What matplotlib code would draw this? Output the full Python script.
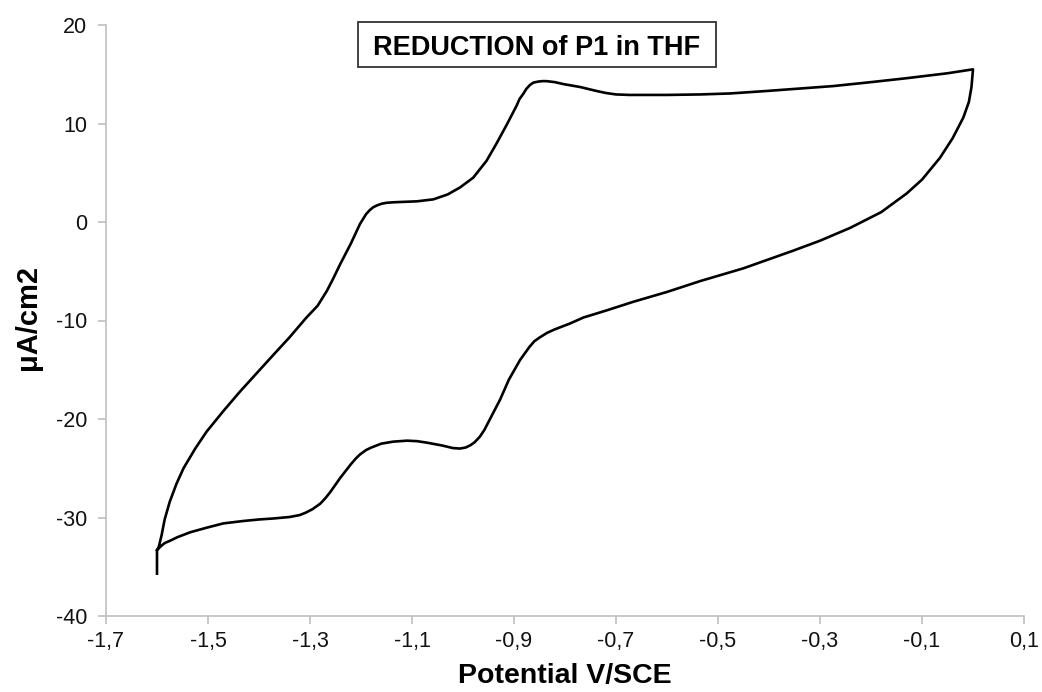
import matplotlib
matplotlib.use("Agg")
import matplotlib.pyplot as plt
from matplotlib.patches import Rectangle

plt.rcParams['font.family'] = ['Liberation Sans', 'DejaVu Sans']
plt.rcParams['axes.unicode_minus'] = False

# scan start tail at -1.6 V
tail_v = [-1.600, -1.600]
tail_i = [-35.7, -33.3]

# lower branch, -1.6 V -> 0 V
lower_v = [-1.600, -1.592, -1.585, -1.572, -1.560, -1.535, -1.500, -1.470, -1.430, -1.400,
           -1.372, -1.340, -1.320, -1.308, -1.295, -1.280, -1.270, -1.260, -1.241, -1.220,
           -1.210, -1.202, -1.190, -1.180, -1.160, -1.137, -1.110, -1.090, -1.071, -1.040,
           -1.020, -1.006, -0.995, -0.985, -0.977, -0.967, -0.958, -0.950, -0.927, -0.910,
           -0.888, -0.870, -0.860, -0.849, -0.835, -0.820, -0.790, -0.764, -0.720, -0.666,
           -0.600, -0.535, -0.450, -0.352, -0.300, -0.241, -0.180, -0.130, -0.100, -0.065,
           -0.040, -0.019, -0.008, -0.003, 0.000]
lower_i = [-33.3, -32.9, -32.6, -32.3, -32.0, -31.5, -31.0, -30.6, -30.35, -30.2,
           -30.1, -29.95, -29.75, -29.5, -29.15, -28.6, -28.05, -27.4, -26.0, -24.6,
           -24.0, -23.6, -23.15, -22.9, -22.5, -22.3, -22.2, -22.25, -22.4, -22.7,
           -22.95, -23.0, -22.9, -22.65, -22.35, -21.8, -21.1, -20.3, -18.0, -16.0,
           -14.0, -12.7, -12.1, -11.7, -11.25, -10.9, -10.3, -9.7, -9.0, -8.1,
           -7.1, -6.0, -4.7, -2.9, -1.9, -0.6, 1.0, 2.9, 4.3, 6.5,
           8.5, 10.6, 12.2, 13.7, 15.5]

# upper branch, 0 V -> -1.6 V
upper_v = [0.000, -0.050, -0.130, -0.200, -0.274, -0.340, -0.405, -0.476, -0.535, -0.600,
           -0.673, -0.700, -0.720, -0.738, -0.770, -0.803, -0.820, -0.836, -0.845, -0.853,
           -0.862, -0.869, -0.876, -0.882, -0.889, -0.895, -0.914, -0.935, -0.954, -0.980,
           -1.006, -1.030, -1.058, -1.090, -1.137, -1.150, -1.160, -1.168, -1.176, -1.183,
           -1.190, -1.196, -1.202, -1.220, -1.241, -1.255, -1.267, -1.285, -1.307, -1.340,
           -1.372, -1.400, -1.437, -1.470, -1.503, -1.525, -1.548, -1.562, -1.575, -1.585,
           -1.591, -1.597, -1.600]
upper_i = [15.5, 15.1, 14.6, 14.2, 13.8, 13.55, 13.3, 13.05, 12.95, 12.9,
           12.9, 12.95, 13.1, 13.3, 13.7, 14.0, 14.2, 14.3, 14.3, 14.25,
           14.15, 13.9, 13.5, 13.0, 12.5, 11.8, 9.9, 7.9, 6.2, 4.5,
           3.5, 2.8, 2.3, 2.1, 2.0, 1.95, 1.85, 1.7, 1.5, 1.2,
           0.8, 0.3, -0.2, -2.2, -4.3, -5.8, -7.0, -8.5, -9.7, -11.7,
           -13.5, -15.1, -17.2, -19.2, -21.3, -23.0, -25.0, -26.6, -28.4, -30.2,
           -31.8, -33.1, -33.3]

x_ticks = [-1.7, -1.5, -1.3, -1.1, -0.9, -0.7, -0.5, -0.3, -0.1, 0.1]
x_labels = ['-1,7', '-1,5', '-1,3', '-1,1', '-0,9', '-0,7', '-0,5', '-0,3', '-0,1', '0,1']
y_ticks = [-40, -30, -20, -10, 0, 10, 20]

fig = plt.figure(figsize=(10.42, 6.92), dpi=100)
ax = fig.add_axes([106 / 1042, 76 / 692, 918 / 1042, 591 / 692])

v = tail_v + lower_v + upper_v
i = tail_i + lower_i + upper_i
ax.plot(v, i, color='black', lw=1.9, solid_joinstyle='round')

ax.set_xlim(-1.7, 0.1)
ax.set_ylim(-40, 20)
ax.set_xticks(x_ticks)
ax.set_xticklabels(x_labels)
ax.set_yticks(y_ticks)

for s in ['top', 'right']:
    ax.spines[s].set_visible(False)
for s in ['left', 'bottom']:
    ax.spines[s].set_color('#bfbfbf')
    ax.spines[s].set_linewidth(1.2)
ax.tick_params(axis='both', colors='#bfbfbf', length=5.5, width=1.2, labelsize=15.5,
               labelcolor='#111111')
ax.tick_params(axis='y', pad=8)
ax.tick_params(axis='x', pad=5)

ax.set_xlabel('Potential V/SCE', fontsize=20.5, fontweight='bold', va='center')
ax.xaxis.set_label_coords((565 - 106) / 918, (616 - 676) / 591)
ax.set_ylabel('μA/cm2', fontsize=21, fontweight='bold', va='center')
ax.yaxis.set_label_coords((28 - 106) / 918, (616 - 318) / 591)

# title in a framed box
fig.patches.append(Rectangle((358 / 1042, 1 - 67 / 692), 358 / 1042, 45 / 692,
                             transform=fig.transFigure, fc='white', ec='#333333', lw=1.3))
fig.text(537 / 1042, 1 - 45 / 692, 'REDUCTION of P1 in THF', fontsize=19.5, fontweight='bold',
         ha='center', va='center_baseline')

fig.savefig('out.png', dpi=100)
